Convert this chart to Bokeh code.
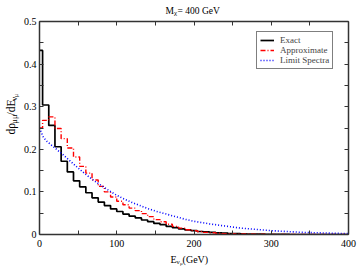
import math
from bokeh.plotting import figure
from bokeh.layouts import column, row
from bokeh.models import (Range1d, LinearAxis, FixedTicker, Legend, LegendItem,
                          CustomLabelingPolicy)
from bokeh.core.properties import value
from bokeh.embed import file_html
from bokeh.resources import INLINE

# ---------------- data ----------------
# bin centres (GeV) of the stepped spectra
bin_energy = [0, 8, 16, 24, 32, 40, 48, 56, 64, 72, 80, 88, 96, 104, 112, 120, 128,
              136, 144, 152, 160, 168, 176, 184, 192, 200, 208, 216, 224, 232, 240,
              248, 256, 264, 272, 280, 288, 296, 304, 312, 320, 328, 336, 344, 352,
              360, 368, 376, 384, 392, 400]
exact = [0.432, 0.304, 0.256, 0.206, 0.172, 0.147, 0.126, 0.112, 0.098, 0.086, 0.076,
         0.068, 0.060, 0.054, 0.048, 0.043, 0.039, 0.034, 0.030, 0.026, 0.023, 0.019,
         0.016, 0.013, 0.011, 0.009, 0.007, 0.006, 0.005, 0.004, 0.003, 0.002, 0.002,
         0.0015, 0.001, 0.001, 0.0007, 0.0005, 0.0003, 0.0002, 0.0001, 0, 0, 0, 0,
         0, 0, 0, 0, 0, 0]
approximate = [0.250, 0.268, 0.276, 0.249, 0.225, 0.203, 0.182, 0.160, 0.144, 0.128,
               0.113, 0.100, 0.088, 0.078, 0.070, 0.062, 0.056, 0.049, 0.042, 0.035,
               0.030, 0.024, 0.019, 0.015, 0.011, 0.009, 0.007, 0.005, 0.004, 0.003,
               0.002, 0.002, 0.0015, 0.001, 0.001, 0.0008, 0.0005, 0.0003, 0.0002,
               0.0001, 0, 0, 0, 0, 0, 0, 0, 0, 0, 0, 0]
# smooth limit spectrum
limit_energy = [0, 5, 10, 20, 30, 40, 50, 60, 70, 80, 90, 100, 110, 120, 130, 140, 150,
                160, 170, 180, 190, 200, 220, 240, 260, 280, 300, 320, 340, 360, 380, 400]
limit_spectra = [0.250, 0.228, 0.218, 0.203, 0.188, 0.172, 0.156, 0.141, 0.127, 0.115,
                 0.103, 0.092, 0.083, 0.075, 0.068, 0.061, 0.055, 0.050, 0.045, 0.040,
                 0.035, 0.031, 0.025, 0.020, 0.015, 0.012, 0.009, 0.007, 0.005, 0.004,
                 0.003, 0.002]
x_ticks = [0, 100, 200, 300, 400]
x_minor = [50, 150, 250, 350]
y_ticks = [0, 0.1, 0.2, 0.3, 0.4, 0.5]
y_minor = [0.05, 0.15, 0.25, 0.35, 0.45]

SERIF = "Liberation Serif"
AX_COL = "#333333"

# ---------------- layout geometry (pixels) ----------------
TOTAL_W, TOTAL_H = 357, 267
TITLE_H = 17          # strip above the plot
XLAB_H = 18           # strip below the plot
YLAB_W = 20           # strip left of the plot
MAIN_W, MAIN_H = TOTAL_W - YLAB_W, TOTAL_H - TITLE_H - XLAB_H

# ---------------- main figure ----------------
p = figure(width=MAIN_W, height=MAIN_H, output_backend="svg", toolbar_location=None,
           x_range=Range1d(0, 400), y_range=Range1d(0, 0.5),
           min_border_left=17, min_border_right=9, min_border_top=1,
           min_border_bottom=14)
p.title.visible = False
p.grid.visible = False
p.outline_line_color = None
p.background_fill_color = "white"
p.border_fill_color = "white"

p.add_layout(LinearAxis(major_label_policy=CustomLabelingPolicy(code="return new Set()")),
             "above")
p.add_layout(LinearAxis(major_label_policy=CustomLabelingPolicy(code="return new Set()")),
             "right")

for ax in p.xaxis:
    ax.ticker = FixedTicker(ticks=x_ticks, minor_ticks=x_minor)
for ax in p.yaxis:
    ax.ticker = FixedTicker(ticks=y_ticks, minor_ticks=y_minor)
    ax.major_label_overrides = {0: "0"}

for ax in p.axis:
    ax.axis_line_color = AX_COL
    ax.axis_line_width = 1.5
    ax.major_tick_line_color = AX_COL
    ax.minor_tick_line_color = AX_COL
    ax.major_tick_in = 4
    ax.major_tick_out = 0
    ax.minor_tick_in = 4
    ax.minor_tick_out = 0
    ax.major_label_text_font = SERIF
    ax.major_label_text_font_size = "10px"
    ax.major_label_text_color = "black"

p.xaxis[0].major_label_standoff = 2
p.yaxis[0].major_label_standoff = 3
for ax in (p.above[0], p.right[0]):
    ax.major_label_text_font_size = "1px"
    ax.major_label_standoff = 0

# ---------------- series ----------------
r_exact = p.step(bin_energy, exact, mode="center", line_color="black", line_width=1.7)
r_apx = p.step(bin_energy, approximate, mode="center", line_color="#ff0000",
               line_width=1.4, line_dash="5 2 1 2")
r_lim = p.line(limit_energy, limit_spectra, line_color="#0000ff", line_width=1.6,
               line_dash="1 2")

legend = Legend(items=[LegendItem(label="Exact", renderers=[r_exact]),
                       LegendItem(label="Approximate", renderers=[r_apx]),
                       LegendItem(label="Limit Spectra", renderers=[r_lim])],
                location=(217, 165))
legend.label_text_font = SERIF
legend.label_text_font_size = "9px"
legend.label_height = 10
legend.glyph_height = 10
legend.glyph_width = 14
legend.label_standoff = 6
legend.spacing = 0
legend.padding = 3
legend.margin = 0
legend.border_line_color = "black"
legend.border_line_width = 1
legend.background_fill_alpha = 1
p.add_layout(legend)


# ---------------- text strips ----------------
def strip(w, h):
    f = figure(width=w, height=h, output_backend="svg", toolbar_location=None,
               x_range=Range1d(0, w), y_range=Range1d(0, h),
               min_border=0, x_axis_location=None, y_axis_location=None)
    f.title.visible = False
    f.grid.visible = False
    f.outline_line_color = None
    f.background_fill_color = "white"
    f.border_fill_color = "white"
    return f


CW = {'M': 0.889, '=': 0.564, ' ': 0.25, 'G': 0.722, 'e': 0.444, 'V': 0.722,
      'E': 0.611, '(': 0.333, ')': 0.333, 'd': 0.5, '/': 0.278, 'ρ': 0.52,
      'μ': 0.53, 'ν': 0.48, 'χ': 0.52}


def tw(s, size):
    return sum(CW.get(c, 0.5) for c in s) * size


def rich(f, pieces, start, base, vertical=False):
    pos = start
    for text, size, shift in pieces:
        if vertical:
            x, y, ang = base + shift, pos, math.pi / 2
        else:
            x, y, ang = pos, base - shift, 0
        f.text(x=[x], y=[y], text=[text], angle=ang, text_font=value(SERIF),
               text_font_size=value(f"{size}px"), text_color="black",
               text_align="left", text_baseline="alphabetic")
        pos += tw(text, size)


# title strip: M_chi = 400 GeV
t_fig = strip(TOTAL_W, TITLE_H)
rich(t_fig, [("M", 9.5, 0), ("χ", 7, 2.5), (" = 400 GeV", 9.5, 0)],
     start=165, base=TITLE_H - 10)

# y-label strip: d rho_{mu mu} / d E_{nu_mu}
y_fig = strip(YLAB_W, MAIN_H)
rich(y_fig, [("dρ", 11.5, 0), ("μμ", 8.5, 3), ("/dE", 11.5, 0), ("ν", 8.5, 3),
             ("μ", 6, 5)],
     start=TITLE_H + MAIN_H - 140, base=10.5, vertical=True)

# x-label strip: E_{nu_mu} (GeV)
x_fig = strip(TOTAL_W, XLAB_H)
rich(x_fig, [("E", 10, 0), ("ν", 7, 2.5), ("μ", 5, 4.5), (" (GeV)", 10, 0)],
     start=170, base=TOTAL_H - 258.5)

layout = column(t_fig, row(y_fig, p, spacing=0), x_fig, spacing=0)

open("out.html", "w").write(file_html(layout, INLINE))
